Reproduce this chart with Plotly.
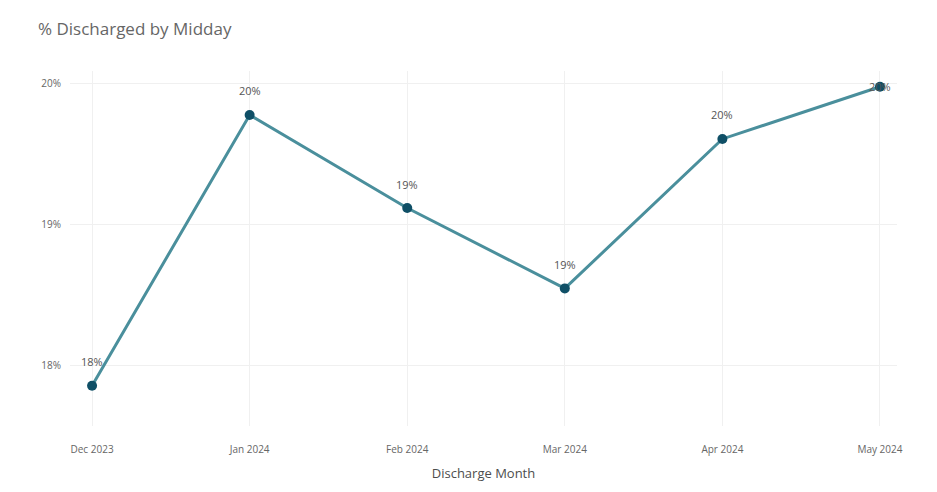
import plotly.graph_objects as go

months = ["Dec 2023", "Jan 2024", "Feb 2024", "Mar 2024", "Apr 2024", "May 2024"]
pct_discharged = [0.1786, 0.1978, 0.1912, 0.1855, 0.1961, 0.1998]
y_ticks = [0.18, 0.19, 0.20]

fig = go.Figure()
fig.add_trace(go.Scatter(
    x=months, y=pct_discharged,
    mode="lines+markers",
    line=dict(color="#4a8f9c", width=3),
    marker=dict(color="#0f4f66", size=10),
    cliponaxis=False,
    hoverinfo="skip",
))

# data labels above points (last one sits on the point, as in the reference)
for i, (m, v) in enumerate(zip(months, pct_discharged)):
    last = i == len(months) - 1
    fig.add_annotation(
        x=m, y=v, text=f"{v:.0%}", showarrow=False,
        yshift=0 if last else 24,
        font=dict(size=11, color="#555555"),
    )

fig.update_layout(
    width=937, height=492,
    paper_bgcolor="white", plot_bgcolor="white",
    margin=dict(l=62, r=48, t=63, b=74),
    font=dict(family="Open Sans, sans-serif", color="#666666"),
    showlegend=False,
    title=dict(text="% Discharged by Midday", x=0.032, xanchor="left", y=0.957, yanchor="middle",
               font=dict(size=17, color="#666666")),
)
fig.update_xaxes(
    type="category", categoryorder="array", categoryarray=months,
    range=[-0.14, 5.108],
    showgrid=True, gridcolor="#f0f0f0", gridwidth=1,
    zeroline=False, showline=False,
    ticks="outside", ticklen=14, tickcolor="rgba(0,0,0,0)",
    tickfont=dict(size=10, color="#666666"),
    title=dict(text="Discharge Month", font=dict(size=13, color="#4d4d4d"), standoff=13),
)
fig.update_yaxes(
    range=[0.17574, 0.20092],
    tickvals=y_ticks, tickformat=".0%",
    showgrid=True, gridcolor="#f0f0f0", gridwidth=1,
    zeroline=False, showline=False,
    tickfont=dict(size=10, color="#666666"),
    ticks="outside", ticklen=6, tickcolor="rgba(0,0,0,0)",
)

fig.write_html("out.html")
